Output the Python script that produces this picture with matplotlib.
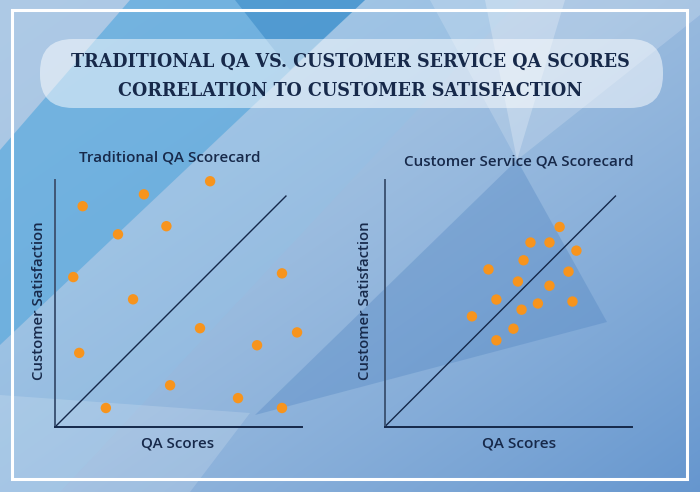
import numpy as np
import matplotlib
matplotlib.use("Agg")
import matplotlib.pyplot as plt
from matplotlib.patches import Polygon, Rectangle, FancyBboxPatch

# ---------------- data ----------------
title_lines = ["TRADITIONAL QA VS. CUSTOMER SERVICE QA SCORES",
               "CORRELATION TO CUSTOMER SATISFACTION"]
left_title = "Traditional QA Scorecard"
right_title = "Customer Service QA Scorecard"
x_label = "QA Scores"
y_label = "Customer Satisfaction"

trad_qa = [11.2, 36.0, 62.8, 25.5, 45.1, 7.4, 31.6, 91.9, 9.8, 58.7, 98.0, 81.8, 46.6, 74.1, 20.6, 91.9]
trad_sat = [89.4, 94.2, 99.5, 78.0, 81.3, 60.7, 51.7, 62.2, 30.0, 40.0, 38.3, 33.1, 16.9, 11.7, 7.7, 7.7]

cs_qa = [70.9, 59.1, 66.8, 77.7, 56.3, 42.1, 74.5, 54.0, 66.8, 45.3, 62.1, 76.1, 55.5, 35.4, 52.2, 45.3]
cs_sat = [81.0, 74.7, 74.7, 71.4, 67.5, 63.8, 62.9, 58.9, 57.2, 51.6, 50.0, 50.8, 47.5, 44.8, 39.8, 35.1]

ref_line = [0, 93.5]

# ---------------- figure ----------------
W, H = 700, 492
fig = plt.figure(figsize=(W / 100, H / 100), dpi=100)

bg = fig.add_axes([0, 0, 1, 1])
bg.set_xlim(0, W)
bg.set_ylim(H, 0)
bg.axis("off")

# gradient base
yy, xx = np.mgrid[0:1:200j, 0:1:280j]
t = np.clip(0.5 * xx + 0.5 * yy, 0, 1) ** 1.7
c0 = np.array([0.68, 0.79, 0.90])
c1 = np.array([0.40, 0.59, 0.81])
img = c0[None, None, :] * (1 - t[..., None]) + c1[None, None, :] * t[..., None]
bg.imshow(img, extent=[0, W, H, 0], aspect="auto", zorder=0, interpolation="bilinear")

polys = [
    # medium saturated band crossing left chart
    ([(365, 0), (520, 0), (60, 492), (0, 492), (0, 345)], "#8cc6ec", 0.22),
    # strong saturated band at top-left
    ([(130, 0), (365, 0), (0, 345), (0, 150)], "#45a2dc", 0.55),
    ([(235, 0), (365, 0), (290, 70)], "#2a7fc2", 0.45),
    # light beams top right
    ([(430, 0), (700, 0), (700, 15), (517, 160)], "white", 0.18),
    ([(485, 0), (565, 0), (517, 160)], "white", 0.25),
    # darker triangle behind right chart
    ([(517, 160), (607, 322), (255, 415)], "#4a80bf", 0.32),
    # light bottom-left
    ([(0, 395), (250, 413), (190, 492), (0, 492)], "white", 0.16),
]
for pts, col, a in polys:
    bg.add_patch(Polygon(pts, closed=True, facecolor=col, edgecolor="none", alpha=a, zorder=1))

# white frame
bg.add_patch(Rectangle((12, 10), 675, 469, fill=False, edgecolor="white", lw=2.2, zorder=2))

# title pill
bg.add_patch(FancyBboxPatch((40, 39), 623, 69, boxstyle="round,pad=0,rounding_size=33",
                            facecolor="white", edgecolor="none", alpha=0.5, zorder=2))

navy = "#17294a"
serif = ["DejaVu Serif"]
t1 = bg.text(350, 62, title_lines[0], ha="center", va="center", color=navy,
             family=serif, fontweight="bold", fontstretch="condensed", fontsize=13, zorder=3)
t2 = bg.text(350, 90.5, title_lines[1], ha="center", va="center", color=navy,
             family=serif, fontweight="bold", fontstretch="condensed", fontsize=13, zorder=3)

sans = ["Open Sans", "DejaVu Sans"]
st1 = bg.text(170, 157.5, left_title, ha="center", va="center", color=navy,
              family=sans, fontweight="semibold", fontsize=11, zorder=3)
st2 = bg.text(518.5, 161, right_title, ha="center", va="center", color=navy,
              family=sans, fontweight="semibold", fontsize=11, zorder=3)
xl1 = bg.text(177.5, 443, x_label, ha="center", va="center", color=navy,
              family=sans, fontweight="semibold", fontsize=11, zorder=3)
xl2 = bg.text(519, 443, x_label, ha="center", va="center", color=navy,
              family=sans, fontweight="semibold", fontsize=11, zorder=3)
yl1 = bg.text(39, 301, y_label, ha="center", va="center", rotation=90, color=navy,
              family=sans, fontweight="semibold", fontsize=11, zorder=3)
yl2 = bg.text(365, 301, y_label, ha="center", va="center", rotation=90, color=navy,
              family=sans, fontweight="semibold", fontsize=11, zorder=3)


def make_chart(x0px, qa, sat):
    ax = fig.add_axes([x0px / W, (H - 427) / H, 247 / W, 247 / H])
    ax.set_xlim(0, 100)
    ax.set_ylim(0, 100)
    ax.patch.set_alpha(0)
    for s in ["top", "right"]:
        ax.spines[s].set_visible(False)
    ax.spines["left"].set_color("#3f5676")
    ax.spines["bottom"].set_color("#15284a")
    ax.spines["left"].set_linewidth(1.4)
    ax.spines["bottom"].set_linewidth(1.4)
    ax.set_xticks([])
    ax.set_yticks([])
    ax.plot(ref_line, ref_line, color="#15284a", lw=1.0, zorder=2)
    ax.scatter(qa, sat, s=56, color="#f7941d", edgecolors="none", zorder=3, clip_on=False)
    return ax


make_chart(55, trad_qa, trad_sat)
make_chart(384.5, cs_qa, cs_sat)

# fit text widths to the reference
fig.canvas.draw()
r = fig.canvas.get_renderer()
for txt, target, vertical in [(t1, 556, False), (t2, 463, False), (st1, 181, False), (st2, 229, False),
                              (xl1, 73, False), (xl2, 74, False), (yl1, 158, True), (yl2, 158, True)]:
    bb = txt.get_window_extent(r)
    cur = bb.height if vertical else bb.width
    txt.set_fontsize(txt.get_fontsize() * target / cur)

fig.savefig("out.png", dpi=100)
